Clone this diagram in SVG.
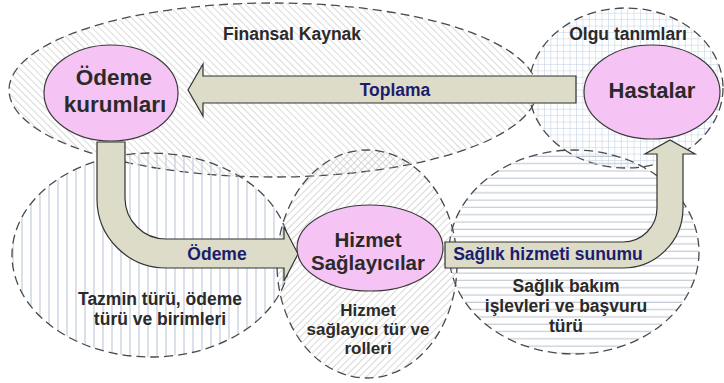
<svg xmlns="http://www.w3.org/2000/svg" width="724" height="383" viewBox="0 0 724 383">
<defs>
<pattern id="pDiagBack" width="5" height="5" patternUnits="userSpaceOnUse" patternTransform="rotate(-45)">
<line x1="0" y1="0" x2="0" y2="5" stroke="#c2c2c2" stroke-width="1.2"/>
</pattern>
<pattern id="pDiagFwd" width="5" height="5" patternUnits="userSpaceOnUse" patternTransform="rotate(45)">
<line x1="0" y1="0" x2="0" y2="5" stroke="#bdbdbd" stroke-width="1.2"/>
</pattern>
<pattern id="pGrid" width="6.4" height="6.4" patternUnits="userSpaceOnUse">
<path d="M0 0 H6.4 M0 0 V6.4" stroke="#bccbe0" stroke-width="1" fill="none"/>
</pattern>
<pattern id="pVert" width="9" height="9" patternUnits="userSpaceOnUse">
<line x1="4" y1="0" x2="4" y2="9" stroke="#c2ccda" stroke-width="1.2"/>
</pattern>
<pattern id="pHorz" width="7.3" height="7.3" patternUnits="userSpaceOnUse">
<line x1="0" y1="3" x2="7.3" y2="3" stroke="#bfc6d2" stroke-width="1.1"/>
</pattern>
</defs>
<style>
.region{stroke:#4a4a4a;stroke-width:1.3;stroke-dasharray:9 5}
.node{fill:#f6c4f4;stroke:#3a3a3a;stroke-width:1.2}
.arrow{fill:#dcdcc8;stroke:#333;stroke-width:1.2;stroke-linejoin:miter}
.lbl{font-family:"Liberation Sans",Arial,sans-serif;font-weight:bold;fill:#2a2a2a;text-anchor:middle;font-size:17.5px}
.nlbl{font-family:"Liberation Sans",Arial,sans-serif;font-weight:bold;fill:#2a2a2a;text-anchor:middle}
.clbl{font-family:"Liberation Sans",Arial,sans-serif;font-weight:bold;fill:#1c1c6e;text-anchor:middle;font-size:17.5px}
</style>
<rect width="724" height="383" fill="#ffffff"/>

<g id="region-finansal">
<ellipse class="region" cx="273" cy="90" rx="264" ry="87" fill="url(#pDiagBack)"/>
</g>
<g id="region-olgu">
<ellipse class="region" cx="626" cy="88" rx="97" ry="80" fill="url(#pGrid)"/>
</g>
<g id="region-tazmin">
<ellipse class="region" cx="151" cy="255" rx="139" ry="102" fill="url(#pVert)"/>
</g>
<g id="region-saglik">
<ellipse class="region" cx="574" cy="252" rx="125" ry="102" fill="url(#pHorz)"/>
</g>
<g id="region-hizmet">
<ellipse class="region" cx="367" cy="264" rx="90" ry="114" fill="url(#pDiagFwd)"/>
</g>

<g id="connectors">
<path id="conn-toplama" class="arrow" d="M576 76 L203 76 L203 64 L188 90 L203 116 L203 103 L576 103 Z"/>
<path id="conn-odeme" class="arrow" d="M97 142 L125 142 L125 198 A41 41 0 0 0 166 239 L284 239 L284 227 L298 254 L284 281 L284 268 L166 268 A69 69 0 0 1 97 199 Z"/>
<path id="conn-saglik" class="arrow" d="M445 242 L623 242 A34 34 0 0 0 657 208 L657 154 L645 154 L670 140 L695 154 L683 154 L683 208 A60 60 0 0 1 623 268 L445 268 Z"/>
<text class="clbl" x="395" y="96">Toplama</text>
<text class="clbl" x="217" y="260">Ödeme</text>
<text class="clbl" x="548" y="260">Sağlık hizmeti sunumu</text>
</g>

<g id="node-odeme">
<ellipse class="node" cx="111" cy="93" rx="67" ry="48"/>
<text class="nlbl" font-size="22.5" x="114" y="85">Ödeme</text>
<text class="nlbl" font-size="22.5" x="115" y="112">kurumları</text>
</g>
<g id="node-hastalar">
<ellipse class="node" cx="652" cy="92" rx="68" ry="47"/>
<text class="nlbl" font-size="22" x="652" y="98">Hastalar</text>
</g>
<g id="node-hizmet">
<ellipse class="node" cx="370" cy="248" rx="73" ry="43"/>
<text class="nlbl" font-size="20.5" x="368" y="247">Hizmet</text>
<text class="nlbl" font-size="20.5" x="368" y="270">Sağlayıcılar</text>
</g>

<g id="labels">
<text class="lbl" x="292" y="40">Finansal Kaynak</text>
<text class="lbl" x="628" y="40">Olgu tanımları</text>
<text class="lbl" x="160" y="305">Tazmin türü, ödeme</text>
<text class="lbl" x="160" y="325">türü ve birimleri</text>
<text class="lbl" font-size="17" style="font-size:17px" x="368" y="316">Hizmet</text>
<text class="lbl" style="font-size:17px" x="368" y="335">sağlayıcı tür ve</text>
<text class="lbl" style="font-size:17px" x="368" y="354">rolleri</text>
<text class="lbl" x="566" y="292">Sağlık bakım</text>
<text class="lbl" x="566" y="312">işlevleri ve başvuru</text>
<text class="lbl" x="566" y="332">türü</text>
</g>
</svg>
